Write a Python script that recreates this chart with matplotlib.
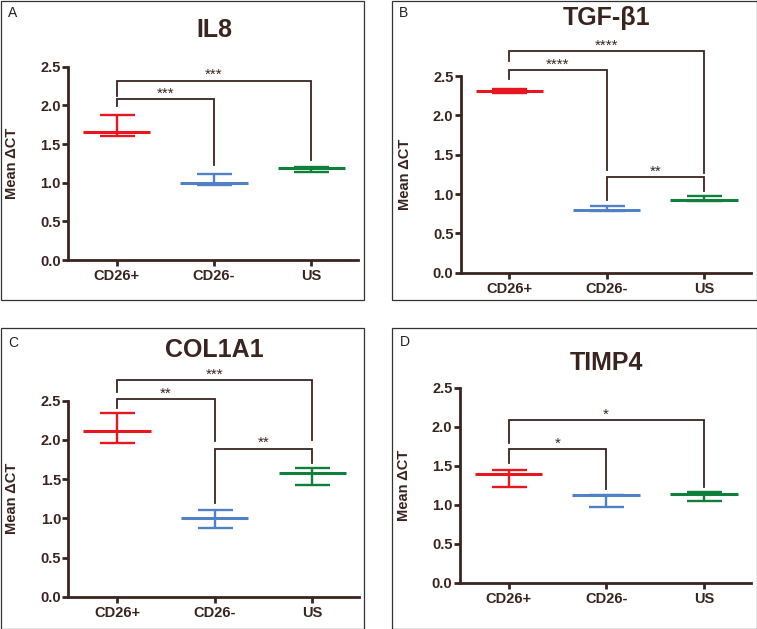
import matplotlib
matplotlib.use("Agg")
import matplotlib.pyplot as plt
from matplotlib.patches import Rectangle

plt.rcParams['font.family'] = ['Liberation Sans', 'DejaVu Sans']

categories = ["CD26+", "CD26-", "US"]
colors = ["#e8161e", "#5080c6", "#0f7f3c"]
titles = ["IL8", "TGF-β1", "COL1A1", "TIMP4"]
letters = ["A", "B", "C", "D"]
ylabel = "Mean ΔCT"
yticks = [0.0, 0.5, 1.0, 1.5, 2.0, 2.5]

il8_mean = [1.66, 1.00, 1.19]
il8_lo = [1.60, 0.97, 1.14]
il8_hi = [1.87, 1.11, 1.20]

tgf_mean = [2.31, 0.80, 0.93]
tgf_lo = [2.29, 0.78, 0.91]
tgf_hi = [2.34, 0.85, 0.97]

col_mean = [2.11, 1.01, 1.58]
col_lo = [1.96, 0.87, 1.42]
col_hi = [2.34, 1.10, 1.64]

timp_mean = [1.40, 1.12, 1.14]
timp_lo = [1.23, 0.97, 1.05]
timp_hi = [1.44, 1.13, 1.16]

# significance brackets: (group i, group j, bar height, left leg bottom, right leg bottom, label)
il8_sig = [(0, 1, 2.08, 1.99, 1.23, "***"), (0, 2, 2.32, 2.12, 1.29, "***")]
tgf_sig = [(0, 1, 2.57, 2.46, 1.30, "****"), (0, 2, 2.82, 2.69, 1.27, "****"),
           (1, 2, 1.21, 0.92, 1.04, "**")]
col_sig = [(0, 1, 2.52, 2.41, 1.98, "**"), (0, 2, 2.76, 2.61, 2.00, "***"),
           (1, 2, 1.89, 1.19, 1.70, "**")]
timp_sig = [(0, 1, 1.71, 1.53, 1.20, "*"), (0, 2, 2.09, 1.79, 1.23, "*")]

W, H = 757, 629
fig = plt.figure(figsize=(W / 100, H / 100), dpi=100)
dark = "#3a2420"


def fx(x):
    return x / W


def fy(y):
    return 1 - y / H


panels = [
    dict(mean=il8_mean, lo=il8_lo, hi=il8_hi, sig=il8_sig,
         ax=(68, 358, 66.7, 260), border=(0.5, 0.5, 364, 300), title_y=30, letter=(8, 13)),
    dict(mean=tgf_mean, lo=tgf_lo, hi=tgf_hi, sig=tgf_sig,
         ax=(460.7, 750.7, 76, 272.7), border=(392, 0.5, 756.5, 300), title_y=18, letter=(399, 13)),
    dict(mean=col_mean, lo=col_lo, hi=col_hi, sig=col_sig,
         ax=(68.3, 359, 400.7, 596.7), border=(0.5, 328, 364, 628.5), title_y=350, letter=(8, 343)),
    dict(mean=timp_mean, lo=timp_lo, hi=timp_hi, sig=timp_sig,
         ax=(459.7, 750.7, 387.7, 582.7), border=(392, 328, 756.5, 628.5), title_y=363, letter=(400, 342)),
]

for k, p in enumerate(panels):
    x0, x1, ytop, ybot = p["ax"]
    ax = fig.add_axes([fx(x0), fy(ybot), (x1 - x0) / W, (ybot - ytop) / H])
    ax.set_xlim(-0.5, 2.48)
    ax.set_ylim(0, 2.5)
    for s in ["top", "right"]:
        ax.spines[s].set_visible(False)
    for s in ["left", "bottom"]:
        ax.spines[s].set_linewidth(2.0)
        ax.spines[s].set_color(dark)
    ax.set_xticks(range(3))
    ax.set_xticklabels(categories, fontsize=10.5, fontweight="bold", color=dark)
    ax.set_yticks(yticks)
    ax.set_yticklabels([f"{v:.1f}" for v in yticks], fontsize=10.5, fontweight="bold", color=dark)
    ax.tick_params(axis="both", direction="out", length=4.2, width=2.0, color=dark)
    ax.tick_params(axis="y", pad=1)
    ax.tick_params(axis="x", pad=2.5)

    for i in range(3):
        m, lo, hi = p["mean"][i], p["lo"][i], p["hi"][i]
        ax.errorbar([i], [m], yerr=[[m - lo], [hi - m]], fmt="none", ecolor=colors[i],
                    elinewidth=1.7, capsize=12.6, capthick=1.7, zorder=3)
        ax.hlines(m, i - 0.345, i + 0.345, colors=colors[i], linewidth=2.2, zorder=3)

    for (i, j, yb, yl, yr, lab) in p["sig"]:
        ax.plot([i, i, j, j], [yl, yb, yb, yr], color=dark, linewidth=1.3,
                clip_on=False, zorder=2, solid_joinstyle="miter")
        ax.annotate(lab, xy=((i + j) / 2, yb), xytext=(0, 1.0), textcoords="offset points",
                    ha="center", va="baseline", fontsize=11, color=dark, annotation_clip=False)

    xmid_px = x0 + (1 - (-0.5)) / (2.48 + 0.5) * (x1 - x0)
    fig.text(fx(xmid_px), fy(p["title_y"]), titles[k], fontsize=18, fontweight="bold",
             color=dark, ha="center", va="center")
    fig.text(fx(x0 - 56), fy((ytop + ybot) / 2), ylabel, rotation=90, fontsize=10.5,
             fontweight="bold", color=dark, ha="center", va="center")
    lx, ly = p["letter"]
    fig.text(fx(lx), fy(ly), letters[k], fontsize=10, color="#222222", ha="left", va="center")

    bx0, by0, bx1, by1 = p["border"]
    fig.patches.append(Rectangle((fx(bx0), fy(by1)), (bx1 - bx0) / W, (by1 - by0) / H,
                                 transform=fig.transFigure, fill=False,
                                 edgecolor="#333333", linewidth=0.9))

fig.savefig("out.png", dpi=100)
